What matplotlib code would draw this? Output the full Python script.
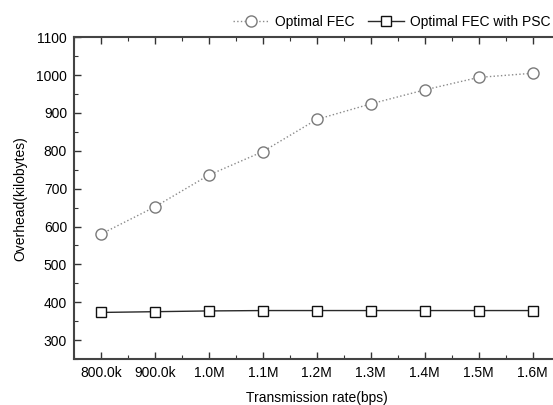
import matplotlib
matplotlib.use("Agg")
import matplotlib.pyplot as plt
from matplotlib.ticker import MultipleLocator, FuncFormatter

plt.rcParams['font.family'] = ['Liberation Sans', 'DejaVu Sans']

rates = [800e3, 900e3, 1.0e6, 1.1e6, 1.2e6, 1.3e6, 1.4e6, 1.5e6, 1.6e6]
optimal_fec = [580, 652, 736, 798, 883, 924, 961, 994, 1005]
optimal_fec_psc = [373, 375, 377, 378, 378, 378, 378, 378, 378]
tick_labels = ['800.0k', '900.0k', '1.0M', '1.1M', '1.2M', '1.3M', '1.4M', '1.5M', '1.6M']

fig = plt.figure(figsize=(5.53, 4.05), dpi=100)
ax = fig.add_axes([74/553, 1-359/405, (559.5-74)/553, (359-37.3)/405])

ax.plot(rates, optimal_fec, linestyle=':', color='#8a8a8a', linewidth=1.0,
        marker='o', markersize=8, markerfacecolor='white', markeredgecolor='#7a7a7a',
        markeredgewidth=1.0, label='Optimal FEC')
ax.plot(rates, optimal_fec_psc, linestyle='-', color='#2a2a2a', linewidth=1.0,
        marker='s', markersize=7.5, markerfacecolor='white', markeredgecolor='#111111',
        markeredgewidth=1.0, label='Optimal FEC with PSC')

ax.set_xlim(750e3, 1650e3)
ax.set_ylim(250, 1100)
ax.set_xticks(rates)
ax.set_xticklabels(tick_labels)
ax.xaxis.set_minor_locator(MultipleLocator(50e3))
ax.yaxis.set_major_locator(MultipleLocator(100))
ax.yaxis.set_minor_locator(MultipleLocator(50))
ax.set_yticks(range(300, 1101, 100))

ax.tick_params(axis='both', which='major', direction='in', length=5, width=1.0,
               color='#333333', labelsize=10, top=True, right=False, pad=5)
ax.tick_params(axis='both', which='minor', direction='in', length=3, width=0.8,
               color='#333333', top=True, right=False)

for s in ['left', 'bottom', 'top']:
    ax.spines[s].set_color('#444444')
    ax.spines[s].set_linewidth(1.5)
ax.spines['right'].set_visible(False)

ax.set_xlabel('Transmission rate(bps)', fontsize=10, labelpad=8)
ax.set_ylabel('Overhead(kilobytes)', fontsize=10, labelpad=6)

fig.legend(loc='center right', bbox_to_anchor=(1.005, 22/405 and 1-22/405), ncol=2,
           frameon=False, fontsize=10, handlelength=2.6, columnspacing=1.0,
           handletextpad=0.4, borderaxespad=0)

fig.savefig('out.png', dpi=100)
